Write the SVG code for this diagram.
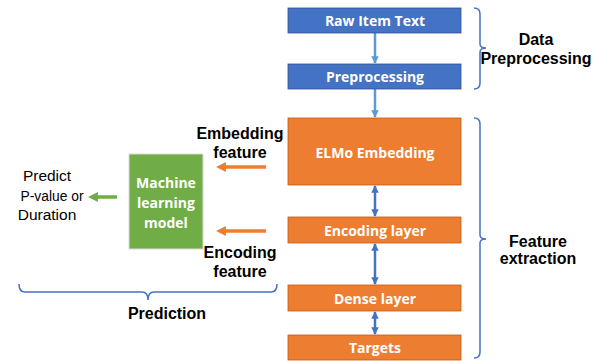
<svg xmlns="http://www.w3.org/2000/svg" width="597" height="361" viewBox="0 0 597 361">
<style>
.box text{font-family:"Open Sans","Liberation Sans",sans-serif;font-weight:bold;fill:#fff;font-size:14px;text-anchor:middle}
.lbl{font-family:"Liberation Sans",Arial,sans-serif;font-weight:bold;fill:#000;font-size:16px;text-anchor:middle}
.reg{font-family:"Liberation Sans",Arial,sans-serif;fill:#000;font-size:15.5px;text-anchor:middle}
.brk{fill:none;stroke:#4472C4;stroke-width:1.5}
</style>
<defs>
<marker id="ab" viewBox="0 0 10 10" refX="9" refY="5" markerWidth="3" markerHeight="3" orient="auto-start-reverse"><path d="M0,0L10,5L0,10z" fill="#5B9BD5"/></marker>
<marker id="ad" viewBox="0 0 10 10" refX="9" refY="5" markerWidth="3" markerHeight="3" orient="auto-start-reverse"><path d="M0,0L10,5L0,10z" fill="#4472C4"/></marker>
<marker id="ao" viewBox="0 0 10 10" refX="5" refY="5" markerWidth="2.8" markerHeight="2.8" orient="auto"><path d="M0,0L10,5L0,10z" fill="#ED7D31"/></marker>
<marker id="ag" viewBox="0 0 10 10" refX="5" refY="5" markerWidth="2.8" markerHeight="2.8" orient="auto"><path d="M0,0L10,5L0,10z" fill="#70AD47"/></marker>
</defs>
<g id="connectors">
<line x1="375" y1="33" x2="375" y2="63" stroke="#5B9BD5" stroke-width="2.5" marker-end="url(#ab)"/>
<line x1="375" y1="89" x2="375" y2="117" stroke="#5B9BD5" stroke-width="2.5" marker-end="url(#ab)"/>
<line x1="375" y1="186" x2="375" y2="216" stroke="#4472C4" stroke-width="2.5" marker-start="url(#ad)" marker-end="url(#ad)"/>
<line x1="375" y1="244" x2="375" y2="284" stroke="#4472C4" stroke-width="2.5" marker-start="url(#ad)" marker-end="url(#ad)"/>
<line x1="375" y1="312" x2="375" y2="334" stroke="#4472C4" stroke-width="2.5" marker-start="url(#ad)" marker-end="url(#ad)"/>
<line x1="266" y1="167" x2="221" y2="167" stroke="#ED7D31" stroke-width="3.5" marker-end="url(#ao)"/>
<line x1="266" y1="231" x2="221" y2="231" stroke="#ED7D31" stroke-width="3.5" marker-end="url(#ao)"/>
<line x1="117" y1="197" x2="93" y2="197" stroke="#70AD47" stroke-width="3.5" marker-end="url(#ag)"/>
</g>
<g id="raw" class="box"><rect x="288" y="8" width="173" height="25" fill="#4472C4" stroke="#2F528F" stroke-width="0.8"/><text x="375" y="25.5">Raw Item Text</text></g>
<g id="pre" class="box"><rect x="288" y="64" width="173" height="25" fill="#4472C4" stroke="#2F528F" stroke-width="0.8"/><text x="375" y="81.5">Preprocessing</text></g>
<g id="elmo" class="box"><rect x="288" y="118" width="173" height="67" fill="#ED7D31" stroke="#C55A11" stroke-width="0.8"/><text x="375" y="158">ELMo Embedding</text></g>
<g id="enc" class="box"><rect x="288" y="217" width="173" height="26" fill="#ED7D31" stroke="#C55A11" stroke-width="0.8"/><text x="375" y="235.5">Encoding layer</text></g>
<g id="dense" class="box"><rect x="288" y="285" width="173" height="26" fill="#ED7D31" stroke="#C55A11" stroke-width="0.8"/><text x="375" y="303.5">Dense layer</text></g>
<g id="targets" class="box"><rect x="288" y="335" width="173" height="25" fill="#ED7D31" stroke="#C55A11" stroke-width="0.8"/><text x="375" y="353">Targets</text></g>
<g id="ml" class="box"><rect x="129" y="154" width="74" height="95" fill="#70AD47" stroke="#D9D9D9" stroke-width="1"/><text x="166" y="188">Machine</text><text x="166" y="208">learning</text><text x="166" y="228">model</text></g>
<g id="dataprep"><path class="brk" d="M474,8 Q480,8 480,14 L480,44 Q480,48 486,48 Q480,48 480,52 L480,83 Q480,89 474,89"/><text class="lbl" x="536" y="45">Data</text><text class="lbl" x="536" y="64">Preprocessing</text></g>
<g id="featext"><path class="brk" d="M474,118 Q480,118 480,124 L480,235 Q480,239 486,239 Q480,239 480,243 L480,352 Q480,358 474,358"/><text class="lbl" x="538" y="247">Feature</text><text class="lbl" x="538" y="264">extraction</text></g>
<g id="embfeat"><text class="lbl" x="240" y="139">Embedding</text><text class="lbl" x="240" y="158">feature</text></g>
<g id="encfeat"><text class="lbl" x="240" y="258">Encoding</text><text class="lbl" x="240" y="277">feature</text></g>
<g id="predict"><text class="reg" x="47" y="181">Predict</text><text class="reg" x="52" y="201" textLength="63" lengthAdjust="spacingAndGlyphs">P-value or</text><text class="reg" x="47" y="220">Duration</text></g>
<g id="prediction"><path class="brk" d="M19,284 Q19,292 25,292 L142,292 Q148,292 148,300 Q148,292 154,292 L271,292 Q277,292 277,284"/><text class="lbl" x="167" y="319">Prediction</text></g>
</svg>
